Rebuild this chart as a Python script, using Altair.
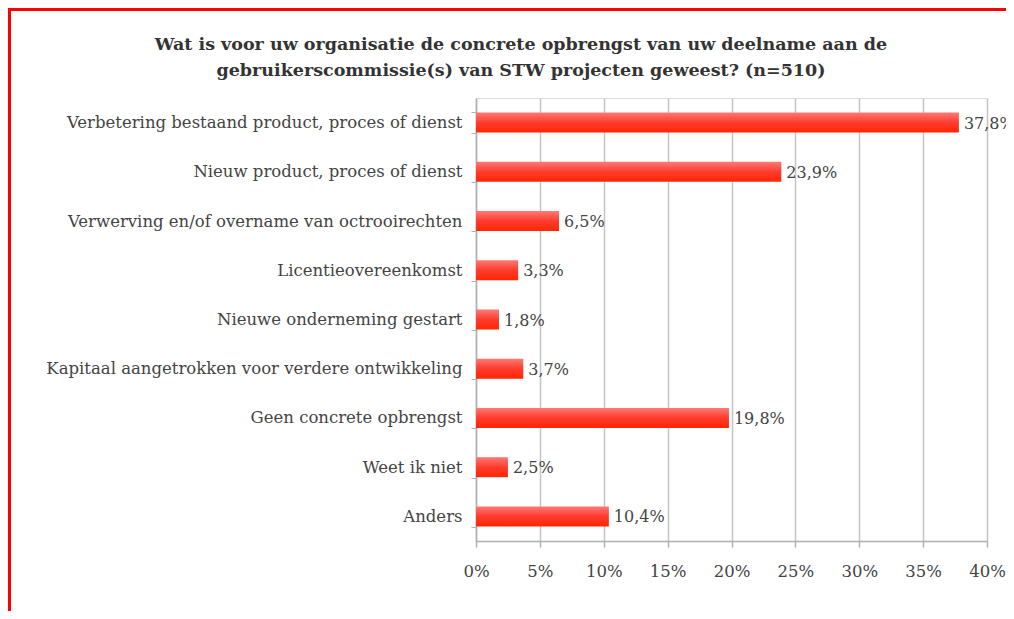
import altair as alt
import pandas as pd

categories = [
    "Verbetering bestaand product, proces of dienst",
    "Nieuw product, proces of dienst",
    "Verwerving en/of overname van octrooirechten",
    "Licentieovereenkomst",
    "Nieuwe onderneming gestart",
    "Kapitaal aangetrokken voor verdere ontwikkeling",
    "Geen concrete opbrengst",
    "Weet ik niet",
    "Anders",
]
values = [37.8, 23.9, 6.5, 3.3, 1.8, 3.7, 19.8, 2.5, 10.4]
x_ticks = [0, 5, 10, 15, 20, 25, 30, 35, 40]
title_lines = [
    "Wat is voor uw organisatie de concrete opbrengst van uw deelname aan de",
    "gebruikerscommissie(s) van STW projecten geweest? (n=510)",
]

df = pd.DataFrame({"cat": categories, "val": values})

FONT = "DejaVu Serif"
TXT = "#444444"

y_enc = alt.Y(
    "cat:N",
    sort=categories,
    title=None,
    scale=alt.Scale(paddingInner=0.58, paddingOuter=0.29),
    axis=alt.Axis(
        labelFont=FONT, labelFontSize=16.5, labelColor=TXT, labelLimit=600,
        tickBand="extent", tickColor="#b0b0b0", tickSize=5, domainColor="#b0b0b0",
        domainWidth=1.5, labelPadding=9, grid=False,
    ),
)
x_enc = alt.X(
    "val:Q",
    title=None,
    scale=alt.Scale(domain=[0, 40], nice=False),
    axis=alt.Axis(
        values=x_ticks, labelExpr="datum.value + '%'", labelFont=FONT,
        labelFontSize=16.5, labelColor=TXT, tickColor="#b0b0b0", tickSize=6,
        domainColor="#b0b0b0", domainWidth=1.5, gridColor="#c4c4c4", gridWidth=1.5,
        labelPadding=16, tickWidth=1.5, labelFlush=False, labelOverlap=False,
    ),
)

grad = alt.Gradient(
    gradient="linear",
    stops=[
        alt.GradientStop(color="#ff7a74", offset=0),
        alt.GradientStop(color="#ff3b2e", offset=0.5),
        alt.GradientStop(color="#ff2600", offset=1),
    ],
    x1=0, x2=0, y1=0, y2=1,
)

bars = alt.Chart(df).mark_bar(color=grad, size=20).encode(x=x_enc, y=y_enc)

labels = alt.Chart(df).transform_calculate(
    lab="replace(format(datum.val, '.1f'), '.', ',') + '%'"
).mark_text(
    align="left", baseline="middle", dx=5, dy=1, font=FONT, fontSize=16, color=TXT
).encode(x="val:Q", y=alt.Y("cat:N", sort=categories), text="lab:N")

frame_data = alt.Data(values=[{"a": 1}])
left_line = alt.Chart(frame_data).mark_rule(color="#ff0000", strokeWidth=3).encode(
    x=alt.value(-466.5), y=alt.value(-88.5), y2=alt.value(513)
)
top_line = alt.Chart(frame_data).mark_rule(color="#ff0000", strokeWidth=3).encode(
    x=alt.value(-468), x2=alt.value(530), y=alt.value(-88.5)
)

title1 = alt.Chart(frame_data).mark_text(
    align="center", baseline="middle", font=FONT, fontSize=17.5, fontWeight="bold",
    color="#333333",
).encode(x=alt.value(45), y=alt.value(-53), text=alt.value(title_lines[0]))
title2 = alt.Chart(frame_data).mark_text(
    align="center", baseline="middle", font=FONT, fontSize=17.5, fontWeight="bold",
    color="#333333",
).encode(x=alt.value(45), y=alt.value(-27), text=alt.value(title_lines[1]))

chart = alt.layer(bars, labels, left_line, top_line, title1, title2).properties(
    width=511,
    height=443,
    autosize=alt.AutoSizeParams(type="none"),
    padding={"left": 468, "top": 90, "right": 19, "bottom": 70},
).configure_view(stroke=None).configure(background="white")

chart.save("out.html", embed_options={"renderer": "svg", "actions": False})
